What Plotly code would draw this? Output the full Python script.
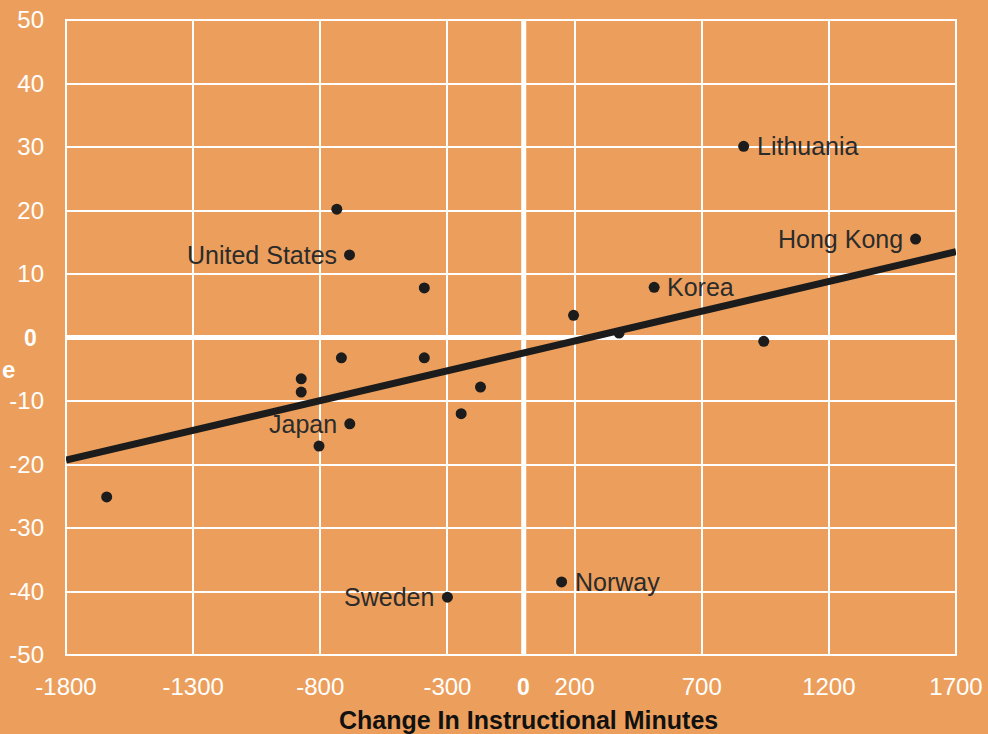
import plotly.graph_objects as go

# Data
minutes = [-1640, -875, -875, -735, -685, -717, -391, -391, -684, -805,
           -246, -170, -300, 149, 196, 375, 513, 865, 944, 1541]
score = [-25.1, -6.5, -8.6, 20.2, 13.0, -3.2, 7.8, -3.2, -13.6, -17.1,
         -12.0, -7.8, -40.9, -38.5, 3.5, 0.7, 7.9, 30.1, -0.6, 15.5]
labels = ["", "", "", "", "United States", "", "", "", "Japan", "",
          "", "", "Sweden", "Norway", "", "", "Korea", "Lithuania", "", "Hong Kong"]
label_pos = ["", "", "", "", "left", "", "", "", "left", "",
             "", "", "left", "right", "", "", "right", "right", "", "left"]

trend_x = [-1800, 1700]
trend_y = [-19.3, 13.5]

x_ticks = [-1800, -1300, -800, -300, 200, 700, 1200, 1700]
y_ticks = [-50, -40, -30, -20, -10, 10, 20, 30, 40, 50]

BG = "#EC9F5C"
DARK = "#1c1c1c"
TXT = "#2b2b2b"

fig = go.Figure()

fig.add_trace(go.Scatter(x=trend_x, y=trend_y, mode="lines",
                         line=dict(color=DARK, width=7), hoverinfo="skip",
                         showlegend=False))
fig.add_trace(go.Scatter(x=minutes, y=score, mode="markers",
                         marker=dict(color=DARK, size=11), showlegend=False))

for x, y, t, p in zip(minutes, score, labels, label_pos):
    if not t:
        continue
    fig.add_annotation(x=x, y=y, text=t, showarrow=False,
                       xanchor="right" if p == "left" else "left",
                       xshift=-11 if p == "left" else 11,
                       font=dict(family="Liberation Sans, Arial", size=25, color=TXT))

# zero lines
fig.add_shape(type="line", x0=0, x1=0, y0=-50, y1=50, xref="x", yref="y",
              line=dict(color="white", width=5), layer="below")
fig.add_shape(type="line", x0=-1800, x1=1700, y0=0, y1=0, xref="x", yref="y",
              line=dict(color="white", width=5), layer="below")

# zero labels (bold)
fig.add_annotation(x=0, y=0, xref="x", yref="paper", yanchor="top", yshift=-17,
                   text="<b>0</b>", showarrow=False,
                   font=dict(family="Liberation Sans, Arial", size=23, color="white"))
fig.add_annotation(x=0, y=0, xref="paper", yref="y", xanchor="center", xshift=-36,
                   text="<b>0</b>", showarrow=False,
                   font=dict(family="Liberation Sans, Arial", size=23, color="white"))

# axis titles
fig.add_annotation(x=0.52, y=0, xref="paper", yref="paper", yanchor="top", yshift=-49,
                   text="<b>Change In Instructional Minutes</b>", showarrow=False,
                   font=dict(family="Liberation Sans Narrow, Arial Narrow, Liberation Sans", size=25, color="#111111"))
# y-axis title is cut off at the left edge in the reference: only its last letter shows
fig.add_annotation(x=0, y=-5, xref="paper", yref="y", xanchor="left", xshift=-66,
                   text="<b>e</b>", showarrow=False,
                   font=dict(family="Liberation Sans, Arial", size=24, color="white"))

fig.update_xaxes(range=[-1800, 1700], tickvals=x_ticks,
                 ticktext=[str(v) for v in x_ticks], automargin=False,
                 showgrid=True, gridcolor="white", gridwidth=2,
                 zeroline=False, showline=False, ticks="",
                 tickfont=dict(family="Liberation Sans, Arial", size=24, color="white"),
                 ticklabelstandoff=15)
fig.update_yaxes(range=[-50, 50], tickvals=y_ticks,
                 ticktext=[str(v) for v in y_ticks], automargin=False,
                 showgrid=True, gridcolor="white", gridwidth=2,
                 zeroline=False, showline=False, ticks="",
                 tickfont=dict(family="Liberation Sans, Arial", size=24, color="white"),
                 ticklabelstandoff=21)

fig.add_shape(type="rect", x0=0, x1=1, y0=0, y1=1, xref="paper", yref="paper",
              line=dict(color="white", width=2), layer="below")

fig.update_layout(width=988, height=734,
                  margin=dict(l=66, r=32, t=20, b=79),
                  paper_bgcolor=BG, plot_bgcolor=BG)

fig.write_html("out.html", config={"displayModeBar": False},
               post_script="document.body.style.margin='0';document.body.style.overflow='hidden';document.body.style.background='" + BG + "';")
